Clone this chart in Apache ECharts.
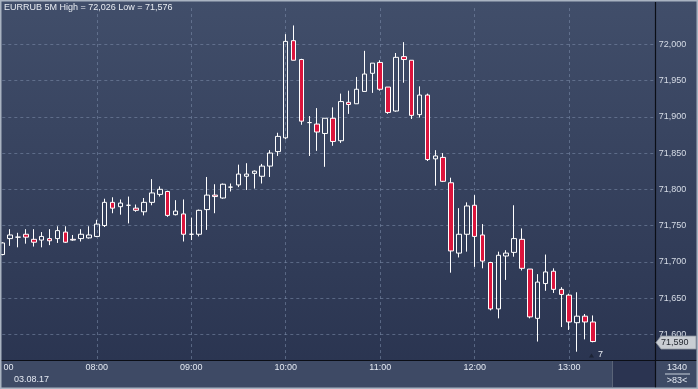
<!DOCTYPE html>
<html><head><meta charset="utf-8">
<script src="https://cdn.jsdelivr.net/npm/echarts@6/dist/echarts.min.js"></script>
<style>html,body{margin:0;padding:0;background:#2b3552;}#c{width:698px;height:389px;}</style>
</head><body><div id="c"></div>
<script>
const categories = [
"07:00","07:05","07:10","07:15","07:20","07:25","07:30","07:35","07:40","07:45","07:50","07:55",
"08:00","08:05","08:10","08:15","08:20","08:25","08:30","08:35","08:40","08:45","08:50","08:55",
"09:00","09:05","09:10","09:15","09:20","09:25","09:30","09:35","09:40","09:45","09:50","09:55",
"10:00","10:05","10:10","10:15","10:20","10:25","10:30","10:35","10:40","10:45","10:50","10:55",
"11:00","11:05","11:10","11:15","11:20","11:25","11:30","11:35","11:40","11:45","11:50","11:55",
"12:00","12:05","12:10","12:15","12:20","12:25","12:30","12:35","12:40","12:45","12:50","12:55",
"13:00","13:05","13:10","13:15","13:20","13:25","13:30","13:35","13:40","13:45","13:50","13:55"];

const opens = [71710,71732,71734,71738,71731,71730,71732,71732,71741,71731,71732,71733,
71735,71750,71782,71776,71778,71774,71769,71782,71793,71797,71765,71766,
71738,71738,71772,71792,71788,71803,71806,71818,71822,71818,71832,71852,
71871,72005,71979,71892,71890,71877,71898,71867,71920,71918,71935,71960,
71975,71941,71908,71983,71978,71903,71930,71842,71844,71809,71712,71738,
71778,71737,71699,71635,71708,71713,71731,71690,71622,71670,71687,71662,
71654,71616,71625,71617];
const closes = [71726,71737,71734,71734,71727,71735,71729,71743,71727,71730,71738,71737,
71752,71782,71774,71781,71778,71771,71782,71795,71800,71764,71770,71738,
71738,71771,71792,71790,71807,71803,71821,71821,71825,71832,71850,71873,
72004,71978,71894,71892,71879,71898,71866,71921,71917,71938,71959,71974,
71938,71906,71982,71979,71902,71930,71841,71846,71811,71715,71738,71777,
71735,71701,71635,71709,71712,71732,71691,71624,71672,71686,71662,71655,
71617,71625,71617,71590];
const highs = [71727,71745,71740,71745,71745,71741,71745,71749,71749,71737,71745,71749,
71758,71787,71789,71786,71790,71779,71788,71814,71804,71798,71785,71786,
71761,71772,71817,71807,71808,71808,71834,71836,71826,71835,71854,71878,
72014,72026,71980,71901,71912,71898,71913,71932,71936,71955,71991,71974,
71978,71941,71988,72003,71978,71942,71932,71854,71850,71816,71774,71782,
71792,71752,71700,71714,71716,71778,71746,71690,71683,71710,71691,71665,
71656,71658,71628,71626];
const lows = [71709,71722,71720,71725,71721,71720,71723,71726,71726,71729,71728,71732,
71734,71748,71767,71765,71753,71769,71764,71778,71790,71762,71764,71728,
71730,71735,71744,71767,71787,71797,71803,71799,71801,71808,71817,71846,
71869,71978,71889,71846,71853,71831,71860,71864,71904,71918,71935,71933,
71936,71904,71907,71947,71897,71899,71839,71805,71810,71685,71706,71714,
71693,71691,71633,71622,71675,71707,71688,71622,71590,71660,71657,71610,
71606,71576,71593,71589];

const titleText = "EURRUB 5M High = 72,026 Low = 71,576";
const dateText = "03.08.17";
const yTicks = {min: 71550, max: 72050, interval: 50};

const candles = opens.map((o, i) => [o, closes[i], lows[i], highs[i]]);
const FONT = '"Liberation Sans", Arial, sans-serif';
const fmt = v => Number(v).toLocaleString('en-US');

const chart = echarts.init(document.getElementById('c'), null, {renderer: 'canvas'});
const gridL = 2.3, gridW = 653.5;
chart.setOption({
  animation: false,
  backgroundColor: 'transparent',
  grid: [
    {left: gridL, width: gridW, top: 8.05, height: 362.5, show: false, containLabel: false, outerBoundsMode: 'none'},
    {left: gridL, width: gridW, top: 360, height: 1, show: false, containLabel: false, outerBoundsMode: 'none'}
  ],
  xAxis: [
    {type: 'category', gridIndex: 0, data: categories, boundaryGap: false,
     axisLine: {show: false}, axisTick: {show: false}, axisLabel: {show: false},
     splitLine: {show: true, interval: (i) => i > 0 && i % 12 === 0,
       lineStyle: {color: 'rgba(125,142,172,0.55)', type: [3, 3], width: 1}}},
    {type: 'category', gridIndex: 1, data: categories, boundaryGap: false, z: 200,
     axisLine: {show: false}, axisTick: {show: false}, splitLine: {show: false},
     axisLabel: {show: true, interval: (i) => i % 12 === 0, margin: 2, align: 'center',
       color: '#e4e9f2', fontSize: 9, fontFamily: FONT, showMinLabel: true, hideOverlap: false}}
  ],
  yAxis: [
    {type: 'value', gridIndex: 0, position: 'right', min: yTicks.min, max: yTicks.max, interval: yTicks.interval,
     axisLine: {show: false}, axisTick: {show: false},
     axisLabel: {show: true, margin: 3, color: '#d6dce6', fontSize: 9, fontFamily: FONT,
       showMinLabel: false, showMaxLabel: false, formatter: fmt},
     splitLine: {show: true, showMinLine: false, showMaxLine: false,
       lineStyle: {color: 'rgba(125,142,172,0.55)', type: [3, 3], width: 1}}},
    {type: 'value', gridIndex: 1, min: 0, max: 1, show: false}
  ],
  series: [{
    type: 'candlestick',
    xAxisIndex: 0, yAxisIndex: 0,
    data: candles,
    barWidth: 5,
    z: 5,
    itemStyle: {
      color: 'rgba(0,0,0,0)', color0: '#dc143c',
      borderColor: '#ffffff', borderColor0: '#ffffff', borderColorDoji: '#ffffff',
      borderWidth: 1
    }
  }],
  graphic: [
    {id: 'bg', type: 'rect', z: -100, silent: true, shape: {x: 0, y: 0, width: 698, height: 389},
     style: {fill: new echarts.graphic.LinearGradient(0, 0, 0, 1, [
       {offset: 0, color: '#414e6a'}, {offset: 1, color: '#29334f'}])}},
    {id: 'strip', type: 'rect', z: 100, silent: true, shape: {x: 0, y: 361, width: 698, height: 28},
     style: {fill: '#3e4a65'}},
    {id: 'darkbox', type: 'rect', z: 101, silent: true, shape: {x: 613, y: 361, width: 42.5, height: 26},
     style: {fill: '#2b3451'}},
    {id: 'darkboxsep', type: 'line', z: 101, silent: true, shape: {x1: 612.5, y1: 361, x2: 612.5, y2: 387},
     style: {stroke: '#5a6478', lineWidth: 1}},
    {id: 'hline', type: 'line', z: 300, silent: true, shape: {x1: 0, y1: 360.5, x2: 698, y2: 360.5},
     style: {stroke: '#0b0e16', lineWidth: 1.2}},
    {id: 'vline', type: 'line', z: 300, silent: true, shape: {x1: 655.5, y1: 2, x2: 655.5, y2: 389},
     style: {stroke: '#0b0e16', lineWidth: 1.2}},
    {id: 'leftcover', type: 'rect', z: 250, silent: true, shape: {x: 0, y: 361.5, width: 3.6, height: 27},
     style: {fill: '#3e4a65'}},
    {id: 'title', type: 'text', z: 300, silent: true, x: 4, y: 8,
     style: {text: titleText, fill: '#e8ecf2', font: '9px ' + FONT, verticalAlign: 'middle'}},
    {id: 'date', type: 'text', z: 300, silent: true, x: 14, y: 380,
     style: {text: dateText, fill: '#e4e9f2', font: '9px ' + FONT, verticalAlign: 'middle'}},
    {id: 'count', type: 'text', z: 300, silent: true, x: 677, y: 367.5,
     style: {text: '1340', fill: '#e4e9f2', font: '9px ' + FONT, align: 'center', verticalAlign: 'middle'}},
    {id: 'countline', type: 'line', z: 300, silent: true, shape: {x1: 665, y1: 374, x2: 690, y2: 374},
     style: {stroke: '#c8d0dc', lineWidth: 1}},
    {id: 'bars', type: 'text', z: 300, silent: true, x: 677, y: 380.5,
     style: {text: '>83<', fill: '#e4e9f2', font: '9px ' + FONT, align: 'center', verticalAlign: 'middle'}},
    {id: 'seven', type: 'text', z: 300, silent: true, x: 598, y: 355,
     style: {text: '7', fill: '#e8ecf2', font: '9px ' + FONT, verticalAlign: 'middle'}},
    {id: 'sevenTri', type: 'polygon', z: 300, silent: true, shape: {points: [[589, 357.5], [594, 357.5], [591.5, 353.5]]},
     style: {fill: '#1c2335'}},
    {id: 'frame', type: 'rect', z: 400, silent: true, shape: {x: 0.75, y: 0.75, width: 696.5, height: 387.5},
     style: {fill: 'none', stroke: '#a9b3c1', lineWidth: 1.5}}
  ]
});

const last = closes[closes.length - 1];
const py = chart.convertToPixel({yAxisIndex: 0}, last) + 1;
chart.setOption({
  graphic: [
    {id: 'tag', type: 'polygon', z: 350, silent: true,
     shape: {points: [[656, py], [661, py - 6.5], [696, py - 6.5], [696, py + 6.5], [661, py + 6.5]]},
     style: {fill: '#c9cdd3', stroke: '#8d949e', lineWidth: 0.8}},
    {id: 'tagText', type: 'text', z: 360, silent: true, x: 661, y: py,
     style: {text: fmt(last), fill: '#1e232c', font: '9px ' + FONT, verticalAlign: 'middle'}}
  ]
});
</script></body></html>
